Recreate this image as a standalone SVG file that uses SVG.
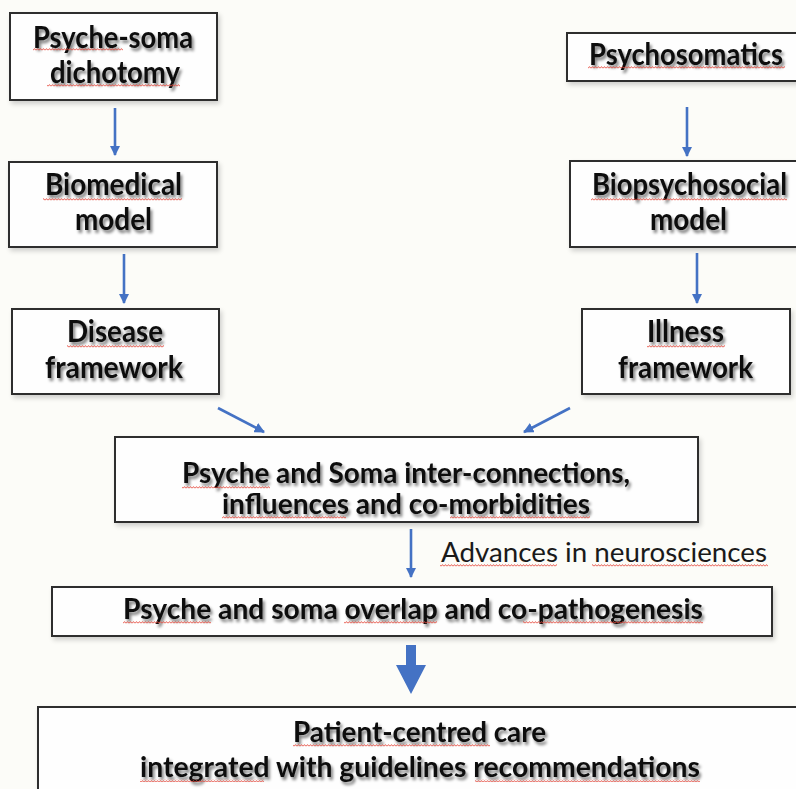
<svg xmlns="http://www.w3.org/2000/svg" width="796" height="789" viewBox="0 0 796 789">
<defs>
<style>
.box{fill:#fefefe;stroke:#2e2e2e;stroke-width:2;filter:url(#bs)}
.t{font-family:Lato,"Open Sans","Liberation Sans",sans-serif;font-weight:bold;font-size:30px;fill:#111;filter:url(#ts)}
.t2{font-size:29px}
.lbl{font-family:Lato,"Open Sans","Liberation Sans",sans-serif;font-size:26px;fill:#1a1a1a}
.con{stroke:#4472C4;stroke-width:2.6;fill:none;marker-end:url(#ah)}
.sq{fill:url(#wave)}
</style>
<filter id="ts" x="-10%" y="-40%" width="130%" height="190%">
<feGaussianBlur in="SourceAlpha" stdDeviation="1.6"/>
<feOffset dx="2" dy="3"/>
<feComponentTransfer><feFuncA type="linear" slope="0.5"/></feComponentTransfer>
<feMerge><feMergeNode/><feMergeNode in="SourceGraphic"/></feMerge>
</filter>
<filter id="bs" x="-5%" y="-10%" width="115%" height="130%">
<feGaussianBlur in="SourceAlpha" stdDeviation="2.5"/>
<feOffset dx="2" dy="3"/>
<feComponentTransfer><feFuncA type="linear" slope="0.18"/></feComponentTransfer>
<feMerge><feMergeNode/><feMergeNode in="SourceGraphic"/></feMerge>
</filter>
<pattern id="wave" patternUnits="userSpaceOnUse" width="3" height="3">
<path d="M0,2.4 L1.5,0.6 L3,2.4" fill="none" stroke="#e5483c" stroke-width="0.9"/>
</pattern>
<marker id="ah" viewBox="0 0 10 10" refX="9" refY="5" markerWidth="4" markerHeight="4" orient="auto" markerUnits="strokeWidth">
<path d="M0,0 L10,5 L0,10 Z" fill="#4472C4"/>
</marker>
</defs>
<rect x="0" y="0" width="796" height="789" fill="#fcfcf8"/>

<g id="connectors">
<line class="con" x1="115" y1="108" x2="115" y2="155"/>
<line class="con" x1="124" y1="254" x2="124" y2="303"/>
<line class="con" x1="687" y1="107" x2="687" y2="156"/>
<line class="con" x1="697" y1="253" x2="697" y2="303"/>
<line class="con" x1="218" y1="408" x2="264" y2="432"/>
<line class="con" x1="570" y1="408" x2="524" y2="432"/>
<line class="con" x1="411" y1="529" x2="411" y2="577"/>
<polygon points="406,645 416,645 416,665 426,665 411,694 396,665 406,665" fill="#4472C4"/>
</g>

<g id="psyche-soma">
<rect class="box" x="10" y="13" width="207" height="87"/>
<text class="t" x="33" y="48" textLength="160" lengthAdjust="spacingAndGlyphs">Psyche-soma</text>
<text class="t" x="50" y="83" textLength="130" lengthAdjust="spacingAndGlyphs">dichotomy</text>
<rect class="sq" x="33" y="48" width="90" height="3"/>
<rect class="sq" x="47" y="84" width="133" height="3"/>
</g>

<g id="psychosomatics">
<rect class="box" x="567" y="33" width="240" height="48"/>
<text class="t" x="589" y="65" textLength="194" lengthAdjust="spacingAndGlyphs">Psychosomatics</text>
<rect class="sq" x="588" y="66" width="197" height="3"/>
</g>

<g id="biomedical">
<rect class="box" x="9" y="162" width="208" height="85"/>
<text class="t" x="45" y="195" textLength="137" lengthAdjust="spacingAndGlyphs">Biomedical</text>
<text class="t" x="75" y="230" textLength="77" lengthAdjust="spacingAndGlyphs">model</text>
<rect class="sq" x="43" y="198" width="139" height="3"/>
</g>

<g id="disease">
<rect class="box" x="12" y="309" width="207" height="85"/>
<text class="t" x="67" y="342" textLength="96" lengthAdjust="spacingAndGlyphs">Disease</text>
<text class="t" x="45" y="378" textLength="138" lengthAdjust="spacingAndGlyphs">framework</text>
<rect class="sq" x="67" y="345" width="97" height="3"/>
</g>

<g id="biopsychosocial">
<rect class="box" x="570" y="161" width="240" height="86"/>
<text class="t" x="592" y="195" textLength="195" lengthAdjust="spacingAndGlyphs">Biopsychosocial</text>
<text class="t" x="650" y="230" textLength="77" lengthAdjust="spacingAndGlyphs">model</text>
<rect class="sq" x="591" y="198" width="196" height="3"/>
</g>

<g id="illness">
<rect class="box" x="582" y="309" width="208" height="85"/>
<text class="t" x="647" y="342" textLength="77" lengthAdjust="spacingAndGlyphs">Illness</text>
<text class="t" x="618" y="378" textLength="135" lengthAdjust="spacingAndGlyphs">framework</text>
<rect class="sq" x="647" y="345" width="78" height="3"/>
</g>

<g id="interconnections">
<rect class="box" x="115" y="437" width="583" height="85"/>
<text class="t t2" x="182" y="483" textLength="448" lengthAdjust="spacingAndGlyphs">Psyche and Soma inter-connections,</text>
<text class="t t2" x="222" y="514" textLength="368" lengthAdjust="spacingAndGlyphs">influences and co-morbidities</text>
<rect class="sq" x="182" y="486" width="88" height="3"/>
<rect class="sq" x="222" y="516" width="124" height="3"/>
<rect class="sq" x="450" y="516" width="140" height="3"/>
</g>

<g id="advances-label">
<text class="lbl" x="441" y="562" textLength="326" lengthAdjust="spacingAndGlyphs">Advances in neurosciences</text>
<rect class="sq" x="440" y="564" width="117" height="3"/>
<rect class="sq" x="592" y="564" width="176" height="3"/>
</g>

<g id="overlap">
<rect class="box" x="52" y="587" width="720" height="49"/>
<text class="t t2" x="123" y="619" textLength="580" lengthAdjust="spacingAndGlyphs">Psyche and soma overlap and co-pathogenesis</text>
<rect class="sq" x="123" y="621" width="88" height="3"/>
<rect class="sq" x="344" y="621" width="93" height="3"/>
<rect class="sq" x="523" y="621" width="180" height="3"/>
</g>

<g id="patient-care">
<rect class="box" x="38" y="707" width="770" height="100"/>
<text class="t t2" x="293" y="742" textLength="253" lengthAdjust="spacingAndGlyphs">Patient-centred care</text>
<text class="t t2" x="140" y="777" textLength="560" lengthAdjust="spacingAndGlyphs">integrated with guidelines recommendations</text>
<rect class="sq" x="293" y="744" width="197" height="3"/>
<rect class="sq" x="140" y="779" width="124" height="3"/>
<rect class="sq" x="475" y="779" width="225" height="3"/>
</g>
</svg>
